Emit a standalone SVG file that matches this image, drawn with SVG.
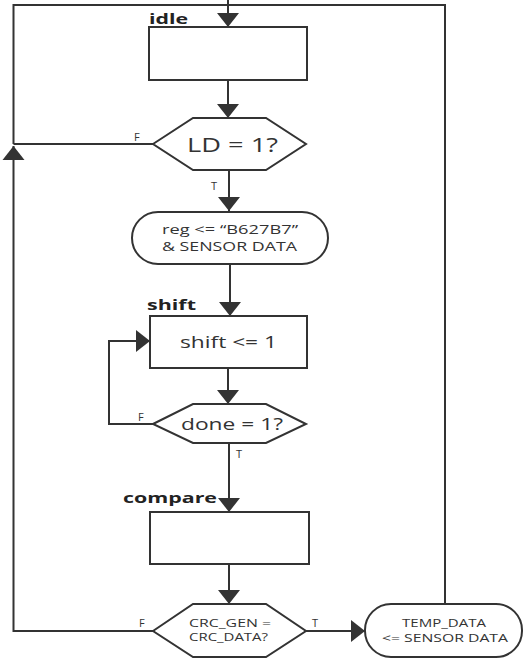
<svg xmlns="http://www.w3.org/2000/svg" width="532" height="660" viewBox="0 0 532 660">
  <style>
    .box { fill: #ffffff; stroke: #333333; stroke-width: 2; }
    .wire { fill: none; stroke: #333333; stroke-width: 2; }
    .txt { font-family: "Open Sans", "Noto Sans", "Liberation Sans", sans-serif; fill: #333333; }
    .tag { font-family: "Open Sans", "Noto Sans", "Liberation Sans", sans-serif; font-weight: bold; font-size: 15px; fill: #222222; }
    .lbl { font-family: "Open Sans", "Noto Sans", "Liberation Sans", sans-serif; font-size: 11px; fill: #333333; }
  </style>
  <defs>
    <marker id="arrow" markerUnits="userSpaceOnUse" markerWidth="15" markerHeight="24" refX="14" refY="12" orient="auto">
      <path d="M0,1 L14,12 L0,23 Z" fill="#333333"/>
    </marker>
  </defs>
  <rect width="532" height="660" fill="#ffffff"/>

  <!-- connectors -->
  <g id="connectors">
    <!-- return bus along the top edge -->
    <polyline class="wire" points="13.5,144 13.5,5 445,5 445,604"/>
    <line class="wire" x1="228" y1="0" x2="228" y2="27" marker-end="url(#arrow)"/>
    <line class="wire" x1="228" y1="80" x2="228" y2="118" marker-end="url(#arrow)"/>
    <!-- LD F -->
    <line class="wire" x1="153" y1="144" x2="13.5" y2="144"/>
    <!-- LD T -->
    <line class="wire" x1="229" y1="170" x2="229" y2="211" marker-end="url(#arrow)"/>
    <line class="wire" x1="230" y1="264" x2="230" y2="316" marker-end="url(#arrow)"/>
    <line class="wire" x1="228" y1="368" x2="228" y2="404" marker-end="url(#arrow)"/>
    <!-- done F loop back into shift -->
    <polyline class="wire" points="153,424 109,424 109,341 150,341" marker-end="url(#arrow)"/>
    <!-- done T -->
    <line class="wire" x1="229" y1="443" x2="229" y2="512" marker-end="url(#arrow)"/>
    <line class="wire" x1="229" y1="564" x2="229" y2="604" marker-end="url(#arrow)"/>
    <!-- CRC F back to idle -->
    <polyline class="wire" points="153,631 13.5,631 13.5,146" marker-end="url(#arrow)"/>
    <!-- CRC T -->
    <line class="wire" x1="306" y1="631" x2="365" y2="631" marker-end="url(#arrow)"/>

    <text class="lbl" x="134" y="141">F</text>
    <text class="lbl" x="211" y="190">T</text>
    <text class="lbl" x="138" y="421">F</text>
    <text class="lbl" x="236" y="458">T</text>
    <text class="lbl" x="139" y="627">F</text>
    <text class="lbl" x="312" y="627">T</text>
  </g>

  <g id="idle">
    <text class="tag" x="149" y="24" textLength="39" lengthAdjust="spacingAndGlyphs">idle</text>
    <rect class="box" x="149" y="27" width="158" height="53"/>
  </g>

  <g id="ld-check">
    <polygon class="box" points="153,144 193,118 266,118 306,144 266,170 193,170"/>
    <text class="txt" x="187" y="151.5" font-size="19.5" textLength="91" lengthAdjust="spacingAndGlyphs">LD = 1?</text>
  </g>

  <g id="load-reg">
    <rect class="box" x="132" y="212" width="196" height="52" rx="26" ry="26"/>
    <text class="txt" x="162" y="234" font-size="13" textLength="136" lengthAdjust="spacingAndGlyphs">reg &lt;= “B627B7”</text>
    <text class="txt" x="162" y="251" font-size="13" textLength="135" lengthAdjust="spacingAndGlyphs">&amp; SENSOR DATA</text>
  </g>

  <g id="shift">
    <text class="tag" x="147" y="310" textLength="49" lengthAdjust="spacingAndGlyphs">shift</text>
    <rect class="box" x="150" y="316" width="157" height="52"/>
    <text class="txt" x="180" y="348" font-size="16" textLength="97" lengthAdjust="spacingAndGlyphs">shift &lt;= 1</text>
  </g>

  <g id="done-check">
    <polygon class="box" points="153,424 193,404 266,404 306,424 266,443 193,443"/>
    <text class="txt" x="181" y="430" font-size="16.5" textLength="102" lengthAdjust="spacingAndGlyphs">done = 1?</text>
  </g>

  <g id="compare">
    <text class="tag" x="123" y="503" textLength="94" lengthAdjust="spacingAndGlyphs">compare</text>
    <rect class="box" x="150" y="512" width="159" height="52"/>
  </g>

  <g id="crc-check">
    <polygon class="box" points="153,631 193,604 266,604 306,631 266,657 193,657"/>
    <text class="txt" x="189" y="627" font-size="11" textLength="82" lengthAdjust="spacingAndGlyphs">CRC_GEN =</text>
    <text class="txt" x="189" y="641" font-size="11" textLength="79" lengthAdjust="spacingAndGlyphs">CRC_DATA?</text>
  </g>

  <g id="store-temp">
    <rect class="box" x="365" y="604" width="157" height="53" rx="26" ry="26"/>
    <text class="txt" x="402" y="627" font-size="11" textLength="84" lengthAdjust="spacingAndGlyphs">TEMP_DATA</text>
    <text class="txt" x="382" y="642" font-size="11" textLength="126" lengthAdjust="spacingAndGlyphs">&lt;= SENSOR DATA</text>
  </g>
</svg>
